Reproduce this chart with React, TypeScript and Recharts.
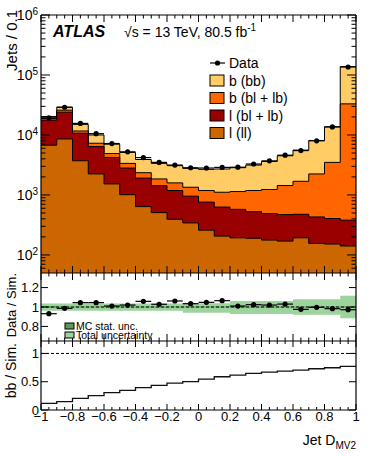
import React from "react";
import { ComposedChart, Area, Line, Scatter, ErrorBar, XAxis, YAxis, ReferenceLine } from "recharts";

const FONT = '"Liberation Sans", Arial, Helvetica, sans-serif';
const W = 374;
const LEFT_W = 41;
const RIGHT = 18;
const PLOT_W = W - LEFT_W - RIGHT;

// bin edges and centres of Jet D_MV2
const EDGES = [-1, -0.9, -0.8, -0.7, -0.6, -0.5, -0.4, -0.3, -0.2, -0.1, 0, 0.1, 0.2, 0.3, 0.4, 0.5, 0.6, 0.7, 0.8, 0.9, 1];
const CENTERS = [-0.95, -0.85, -0.75, -0.65, -0.55, -0.45, -0.35, -0.25, -0.15, -0.05, 0.05, 0.15, 0.25, 0.35, 0.45, 0.55, 0.65, 0.75, 0.85, 0.95];

// stacked components, jets per bin
const L_LL = [6760, 8590, 3715, 2240, 1530, 1010, 640, 508, 394, 342, 259, 206, 193, 190, 177, 170, 193, 156, 152, 141];
const L_BL = [10940, 15410, 6985, 4170, 2690, 1800, 1270, 922, 792, 613, 501, 422, 382, 335, 312, 301, 283, 274, 253, 239];
const B_BL = [1100, 1900, 950, 870, 690, 550, 440, 420, 404, 390, 426, 482, 565, 661, 744, 965, 1214, 1810, 3085, 32620];
const B_BB = [1500, 3100, 3350, 2720, 2110, 1740, 1550, 1510, 1490, 1430, 1484, 1600, 1710, 1964, 2387, 3064, 3900, 5860, 10210, 105000];
const DATA = [19300, 29000, 15600, 10500, 7200, 5240, 4200, 3490, 3150, 2840, 2810, 2880, 2900, 3280, 3700, 4600, 5500, 8000, 13600, 136000];

// ratio panel
const RATIO = [0.931, 0.986, 1.045, 1.045, 1.01, 1.02, 1.058, 1.028, 1.062, 1.034, 1.048, 1.065, 1.01, 1.024, 1.02, 1.03, 0.976, 0.997, 0.983, 0.972];
const TOT_UP = [0.035, 0.035, 0.035, 0.035, 0.035, 0.035, 0.035, 0.035, 0.035, 0.038, 0.038, 0.038, 0.062, 0.062, 0.062, 0.062, 0.08, 0.08, 0.08, 0.115];
const TOT_DN = [0.038, 0.038, 0.038, 0.038, 0.038, 0.038, 0.038, 0.038, 0.038, 0.058, 0.058, 0.058, 0.072, 0.072, 0.072, 0.072, 0.08, 0.08, 0.08, 0.115];
const MC = [0.01, 0.006, 0.006, 0.005, 0.005, 0.005, 0.005, 0.005, 0.005, 0.005, 0.005, 0.005, 0.005, 0.005, 0.005, 0.005, 0.005, 0.006, 0.006, 0.008];

// bb / Sim. panel
const BB_FRAC = [0.118, 0.147, 0.206, 0.253, 0.306, 0.347, 0.394, 0.435, 0.476, 0.5, 0.547, 0.588, 0.618, 0.647, 0.67, 0.688, 0.706, 0.729, 0.747, 0.77];

// ticks
const X_MAJOR = [-1, -0.8, -0.6, -0.4, -0.2, 0, 0.2, 0.4, 0.6, 0.8, 1];
const X_MINOR = [-0.95, -0.9, -0.85, -0.75, -0.7, -0.65, -0.55, -0.5, -0.45, -0.35, -0.3, -0.25, -0.15, -0.1, -0.05,
  0.05, 0.1, 0.15, 0.25, 0.3, 0.35, 0.45, 0.5, 0.55, 0.65, 0.7, 0.75, 0.85, 0.9, 0.95];
const Y_LOG_MAJOR = [100, 1000, 10000, 100000, 1000000];
const Y_LOG_MINOR = [60, 70, 80, 90].concat(
  [100, 1000, 10000, 100000].flatMap((d) => [2, 3, 4, 5, 6, 7, 8, 9].map((m) => m * d))
);
const Y_RATIO = [0.8, 1, 1.2];
const Y_FRAC = [0, 0.5, 1];

const C_BB = "#ffcc66";
const C_BBL = "#ff6600";
const C_LBL = "#990000";
const C_LL = "#cc6600";
const C_TOT = "#9dd39d";
const C_MC = "#5f995f";

const pick = (arr: number[], i: number) => arr[Math.min(i, arr.length - 1)];

const mainRows = EDGES.map((x, i) => {
  const ll = pick(L_LL, i);
  const lbl = ll + pick(L_BL, i);
  const bbl = lbl + pick(B_BL, i);
  const tot = bbl + pick(B_BB, i);
  return { x, ll, lbl, bbl, tot };
});
const mainPts = CENTERS.map((x, i) => ({ x, y: DATA[i], xerr: 0.05 }));
const ratioRows = EDGES.map((x, i) => ({
  x,
  tot: [1 - pick(TOT_DN, i), 1 + pick(TOT_UP, i)],
  mc: [1 - pick(MC, i), 1 + pick(MC, i)],
}));
const ratioPts = CENTERS.map((x, i) => ({ x, y: RATIO[i], xerr: 0.05 }));
const fracRows = EDGES.map((x, i) => ({ x, frac: pick(BB_FRAC, i) }));

const fmtX = (v: number) => (v < 0 ? "\u2212" + Math.abs(v) : String(v));

// ROOT style frame: border plus inward ticks on all four sides
function frame(p: { lo: number; hi: number; H: number; log?: boolean; yMajor: number[]; yMinor: number[]; yLen: number; xLen: number }) {
  const up = (v: number, px: number) =>
    p.log ? v * Math.pow(p.hi / p.lo, px / p.H) : v + (px * (p.hi - p.lo)) / p.H;
  const dx = (px: number) => (px * 2) / PLOT_W;
  const seg = (key: string, a: any, b: any) => (
    <ReferenceLine key={key} segment={[a, b]} stroke="#000" strokeWidth={1} ifOverflow="visible" />
  );
  const out = [
    <ReferenceLine key="bl" x={-1} stroke="#000" strokeWidth={1.2} />,
    <ReferenceLine key="br" x={1} stroke="#000" strokeWidth={1.2} />,
    <ReferenceLine key="bb" y={p.lo} stroke="#000" strokeWidth={1.2} />,
    <ReferenceLine key="bt" y={p.hi} stroke="#000" strokeWidth={1.2} />,
  ];
  const xt = (list: number[], len: number, tag: string) =>
    list.forEach((t) => {
      out.push(seg(`xb${tag}${t}`, { x: t, y: p.lo }, { x: t, y: up(p.lo, len) }));
      out.push(seg(`xt${tag}${t}`, { x: t, y: p.hi }, { x: t, y: up(p.hi, -len) }));
    });
  const yt = (list: number[], len: number, tag: string) =>
    list.forEach((v) => {
      out.push(seg(`yl${tag}${v}`, { x: -1, y: v }, { x: -1 + dx(len), y: v }));
      out.push(seg(`yr${tag}${v}`, { x: 1, y: v }, { x: 1 - dx(len), y: v }));
    });
  xt(X_MAJOR, p.xLen, "M");
  xt(X_MINOR, p.xLen / 2, "m");
  yt(p.yMajor, p.yLen, "M");
  yt(p.yMinor, p.yLen / 2, "m");
  return out;
}

function LogTick(props: any) {
  const { x, y, payload } = props;
  const exp = Math.round(Math.log10(payload.value));
  return (
    <text x={x} y={y} dy="0.36em" textAnchor="end" fontSize={14} fill="#000" fontFamily={FONT}>
      10<tspan dy="-0.5em" fontSize={10}>{exp}</tspan>
    </text>
  );
}

const dot = (p: any) => <circle cx={p.cx} cy={p.cy} r={2.6} fill="#000" />;

const LEGEND = [
  { label: "b (bb)", color: C_BB },
  { label: "b (bl + lb)", color: C_BBL },
  { label: "l (bl + lb)", color: C_LBL },
  { label: "l (ll)", color: C_LL },
];

export default function App() {
  const tickStyle = { fontSize: 13, fill: "#000", fontFamily: FONT };
  const hiddenX = <XAxis dataKey="x" type="number" domain={[-1, 1]} allowDataOverflow hide />;
  return (
    <div style={{ position: "absolute", left: 0, top: 0, width: W, height: 456, background: "#fff", fontFamily: FONT }}>
      <div style={{ position: "absolute", left: 0, top: 0 }}>
        <ComposedChart width={W} height={273} data={mainRows} margin={{ top: 15, right: RIGHT, bottom: 0, left: 0 }}>
          <Area dataKey="tot" type="stepAfter" fill={C_BB} fillOpacity={1} stroke="#000" strokeWidth={1} baseValue="dataMin" isAnimationActive={false} />
          <Area dataKey="bbl" type="stepAfter" fill={C_BBL} fillOpacity={1} stroke="#000" strokeWidth={1} baseValue="dataMin" isAnimationActive={false} />
          <Area dataKey="lbl" type="stepAfter" fill={C_LBL} fillOpacity={1} stroke="#000" strokeWidth={1} baseValue="dataMin" isAnimationActive={false} />
          <Area dataKey="ll" type="stepAfter" fill={C_LL} fillOpacity={1} stroke="#000" strokeWidth={1} baseValue="dataMin" isAnimationActive={false} />
          <Scatter data={mainPts} dataKey="y" shape={dot} isAnimationActive={false}>
            <ErrorBar dataKey="xerr" direction="x" width={0} stroke="#000" strokeWidth={1.2} />
          </Scatter>
          {hiddenX}
          <YAxis type="number" scale="log" domain={[50, 1000000]} allowDataOverflow ticks={Y_LOG_MAJOR} interval={0}
            width={LEFT_W} tickSize={-9} tickMargin={12} tick={<LogTick />} tickLine={false} axisLine={false} />
          {frame({ lo: 50, hi: 1000000, H: 258, log: true, yMajor: Y_LOG_MAJOR, yMinor: Y_LOG_MINOR, yLen: 9, xLen: 7 })}
        </ComposedChart>
      </div>

      <div style={{ position: "absolute", left: 0, top: 273 }}>
        <ComposedChart width={W} height={68} data={ratioRows} margin={{ top: 0, right: RIGHT, bottom: 0, left: 0 }}>
          <Area dataKey="tot" type="stepAfter" fill={C_TOT} fillOpacity={1} stroke="none" isAnimationActive={false} />
          <Area dataKey="mc" type="stepAfter" fill={C_MC} fillOpacity={1} stroke="none" isAnimationActive={false} />
          <ReferenceLine y={1} stroke="#000" strokeDasharray="3 2" strokeWidth={1} />
          <Scatter data={ratioPts} dataKey="y" shape={dot} isAnimationActive={false}>
            <ErrorBar dataKey="xerr" direction="x" width={0} stroke="#000" strokeWidth={1.2} />
          </Scatter>
          {hiddenX}
          <YAxis type="number" domain={[0.65, 1.35]} allowDataOverflow ticks={Y_RATIO} interval={0}
            width={LEFT_W} tickSize={-7} tickMargin={9} tick={tickStyle} tickLine={false} axisLine={false} />
          {frame({ lo: 0.65, hi: 1.35, H: 68, yMajor: Y_RATIO, yMinor: [], yLen: 7, xLen: 7 })}
        </ComposedChart>
      </div>

      <div style={{ position: "absolute", left: 0, top: 341 }}>
        <ComposedChart width={W} height={115} data={fracRows} margin={{ top: 0, right: RIGHT, bottom: 0, left: 0 }}>
          <ReferenceLine y={1} stroke="#000" strokeDasharray="3 2" strokeWidth={1} />
          <Line dataKey="frac" type="stepAfter" stroke="#111" strokeWidth={1.3} dot={false} isAnimationActive={false} />
          <XAxis dataKey="x" type="number" domain={[-1, 1]} allowDataOverflow ticks={X_MAJOR} interval={0} height={46}
            tickSize={-7} tickMargin={9} tick={tickStyle} tickFormatter={fmtX} tickLine={false} axisLine={false} />
          <YAxis type="number" domain={[0, 1.22]} allowDataOverflow ticks={Y_FRAC} interval={0}
            width={LEFT_W} tickSize={-7} tickMargin={9} tick={tickStyle} tickLine={false} axisLine={false} />
          {frame({ lo: 0, hi: 1.22, H: 69, yMajor: Y_FRAC, yMinor: [], yLen: 7, xLen: 6 })}
        </ComposedChart>
      </div>

      <svg width={W} height={456} style={{ position: "absolute", left: 0, top: 0, pointerEvents: "none" }} fontFamily={FONT}>
        <text transform="translate(17,10) rotate(-90)" textAnchor="end" fontSize={15} fill="#000">Jets / 0.1</text>
        <text x={53} y={37} fontSize={16} fontWeight="bold" fontStyle="italic" fill="#000">ATLAS</text>
        <text x={124} y={37} fontSize={14} fill="#000">
          √s = 13 TeV, 80.5 fb<tspan dy={-6} fontSize={10}>-1</tspan>
        </text>

        <line x1={210} x2={225} y1={63} y2={63} stroke="#000" strokeWidth={1.2} />
        <circle cx={217.5} cy={63} r={2.6} fill="#000" />
        <text x={229} y={68} fontSize={14} fill="#000">Data</text>
        {LEGEND.map((e, i) => (
          <g key={e.label}>
            <rect x={210} y={75 + i * 17.5} width={14} height={11} fill={e.color} stroke="#000" strokeWidth={1} />
            <text x={229} y={85.5 + i * 17.5} fontSize={14} fill="#000">{e.label}</text>
          </g>
        ))}

        <text transform="translate(16,273) rotate(-90)" textAnchor="end" fontSize={13} fill="#000">Data / Sim.</text>
        <rect x={65} y={323} width={9} height={6} fill={C_MC} stroke="#000" strokeWidth={1} />
        <text x={76} y={329.5} fontSize={10.5} fill="#000">MC stat. unc.</text>
        <rect x={65} y={332} width={9} height={6} fill={C_TOT} stroke="#000" strokeWidth={1} />
        <text x={76} y={339} fontSize={10.5} fill="#000">Total uncertainty</text>

        <text transform="translate(16,343) rotate(-90)" textAnchor="end" fontSize={14} fill="#000">bb / Sim.</text>
        <text x={356} y={445} textAnchor="end" fontSize={14} fill="#000">
          Jet D<tspan fontSize={10} dy={4}>MV2</tspan>
        </text>
      </svg>
    </div>
  );
}
